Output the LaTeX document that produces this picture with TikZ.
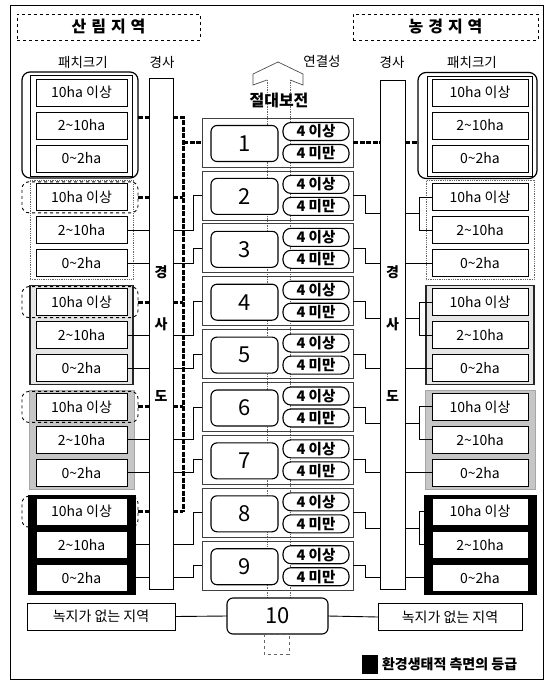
\documentclass[tikz,border=0pt]{standalone}
\usepackage{fontspec}
\setmainfont{Noto Sans CJK KR}
\usetikzlibrary{calc}
\begin{document}
\begin{tikzpicture}[x=1pt,y=-1pt, line width=0.8pt,
  every node/.style={inner sep=0pt, outer sep=0pt},
  sbox/.style={draw, fill=white, line width=1pt, minimum width=91pt, minimum height=27pt, font=\fontsize{14}{16}\selectfont},
  rowbox/.style={draw=black!75, line width=0.8pt, minimum width=151pt, minimum height=49pt},
  numbox/.style={draw, fill=white, rounded corners=6pt, line width=1.1pt, minimum width=67pt, minimum height=36pt, font=\fontsize{22}{24}\selectfont},
  pill/.style={draw, fill=white, rounded corners=8pt, line width=1.1pt, minimum width=66pt, minimum height=18pt, font=\bfseries\fontsize{14.5}{15}\selectfont},
  bar/.style={draw, fill=white, line width=0.8pt},
  thickdash/.style={line width=3pt, dash pattern=on 5pt off 1.5pt},
  conn/.style={line width=0.9pt},
  lbl/.style={font=\fontsize{13.5}{15}\selectfont},
  ttl/.style={draw, dashed, line width=0.7pt, minimum height=26pt, font=\bfseries\fontsize{16}{18}\selectfont},
  bartxt/.style={font=\bfseries\fontsize{14}{16}\selectfont},
  bracket/.style={draw, dashed, rounded corners=7pt, line width=0.9pt, minimum width=116pt, minimum height=31pt},
  grpone/.style={draw, rounded corners=8pt, line width=1.2pt, minimum width=116pt, minimum height=106pt},
  gtwo/.style={draw=black!60, densely dotted, line width=0.8pt},
  gthree/.style={draw=black!85, line width=1.6pt, fill=gray!20},
  gfour/.style={draw=gray!70, line width=0.6pt, fill=gray!45},
  gfive/.style={draw=black, fill=black},
  nogreen/.style={draw, line width=0.9pt, minimum width=148pt, minimum height=27pt, font=\fontsize{14}{16}\selectfont}
]
\useasboundingbox (0,0) rectangle (547,681);
\draw[line width=0.9pt] (10,5) rectangle (543,679);

% titles
\node[ttl, minimum width=183pt] (tl) at (108.5,27) {산\hspace{5pt}림\hspace{5pt}지\hspace{5pt}역};
\node[ttl, minimum width=185pt] (tr) at (445.5,27) {농\hspace{5pt}경\hspace{5pt}지\hspace{5pt}역};
\node[lbl] (lab1) at (83,62) {패치크기};
\node[lbl] (lab2) at (162,62) {경사};
\node[lbl] (lab3) at (322,61) {연결성};
\node[lbl] (lab4) at (392,62) {경사};
\node[lbl] (lab5) at (472,62) {패치크기};

% center axis
\draw[black!60, densely dotted, line width=0.7pt] (267,80) -- (267,598);
\draw[black!60, densely dotted, line width=0.7pt] (290,80) -- (290,598);
\draw[black!70, line width=0.7pt] (267,80) -- (253,85) -- (253,74) -- (278,62) -- (303,74) -- (303,85) -- (290,80);
\node[font=\bfseries\fontsize{16}{18}\selectfont] (abs) at (279,100) {절대보전};

% rows
\foreach \i in {1,...,9} {
  \pgfmathsetmacro\yc{118+52.9*(\i-1)+24.5}
  \node[rowbox] (row-\i) at (277.5,\yc) {};
  \node[numbox] (num-\i) at (244.5,\yc+1) {\i};
  \node[pill] (pa-\i) at (316,\yc-11) {4 이상};
  \node[pill] (pb-\i) at (316,\yc+11) {4 미만};
}
\node[numbox, minimum width=101pt, minimum height=36pt] (r10) at (277.5,616) {10};
\draw[black!60, dashed, line width=0.7pt] (264,634) rectangle (289,654);

% bars
\node[bar, minimum width=24pt, minimum height=511pt] (lbar) at (161,333.5) {};
\node[bar, minimum width=25pt, minimum height=509pt] (rbar) at (392.5,334.5) {};
\node[bartxt] at (161,272) {경};
\node[bartxt] at (161,324) {사};
\node[bartxt] at (161,396) {도};
\node[bartxt] at (392.5,272) {경};
\node[bartxt] at (392.5,324) {사};
\node[bartxt] at (392.5,396) {도};

% group 1
\node[grpone] (LG1) at (80,125) {};
\draw[line width=0.6pt] (30,75) rectangle (132,176);
\node[grpone, minimum width=119pt] (RG1) at (477.5,125.5) {};
\draw[line width=0.6pt] (427,76) rectangle (532,176);

% group frames
\draw[gtwo] (30,180.8) rectangle (133,279.8);
\draw[gthree] (30,285.6) rectangle (133,384.6);
\draw[gfour] (29,390.4) rectangle (134,489.4);
\draw[gfive] (28,495.2) rectangle (135,594.2);
\draw[gtwo] (426,180.8) rectangle (534,279.8);
\draw[gthree] (426,285.6) rectangle (534,384.6);
\draw[gfour] (425,390.4) rectangle (535,489.4);
\draw[gfive] (424,495.2) rectangle (536,594.2);

% boxes
\foreach \k in {1,...,5} {
  \pgfmathsetmacro\gt{79+104.8*(\k-1)}
  \node[sbox] (L-\k-0) at (81.5,\gt+13.5) {10ha 이상};
  \node[sbox] (L-\k-1) at (81.5,\gt+46.5) {2\textasciitilde10ha};
  \node[sbox] (L-\k-2) at (81.5,\gt+79.5) {0\textasciitilde2ha};
  \node[sbox, minimum width=96pt] (R-\k-0) at (480,\gt+13.5) {10ha 이상};
  \node[sbox, minimum width=96pt] (R-\k-1) at (480,\gt+46.5) {2\textasciitilde10ha};
  \node[sbox, minimum width=96pt] (R-\k-2) at (480,\gt+79.5) {0\textasciitilde2ha};
}
\foreach \k in {2,...,5} {
  \node[bracket] (LB-\k) at (80,{79+104.8*(\k-1)+13.5}) {};
}

% dashed absolute-conservation links
\coordinate (dtop) at (183,117);
\coordinate (dbot) at (dtop |- L-5-0.east);
\draw[thickdash] (LG1.east |- dtop) -- (lbar.west |- dtop);
\draw[thickdash] (lbar.east |- dtop) -- (dtop) -- (dbot);
\draw[thickdash] (dtop |- row-1.west) -- (row-1.west);
\draw[thickdash] (row-1.east) -- (rbar.west |- row-1.east);
\draw[thickdash] (rbar.east |- row-1.east) -- (RG1.west |- row-1.east);

\foreach \k in {2,...,5} {
  \pgfmathtruncatemacro\ra{2*\k-2}
  \pgfmathtruncatemacro\rb{2*\k-1}
  % left
  \draw[thickdash] (LB-\k.east) -- (LB-\k.east -| lbar.west);
  \draw[thickdash] (lbar.east |- LB-\k.east) -- (dtop |- LB-\k.east);
  \draw[conn] (L-\k-1.east) -- (L-\k-1.east -| lbar.west);
  \draw[conn] (L-\k-2.east) -- (L-\k-2.east -| lbar.west);
  \draw[conn] (row-\ra.west) -- ++(-9,0) |- (lbar.east |- L-\k-1.east);
  \draw[conn] (row-\rb.west) -- ++(-9,0) |- (lbar.east |- L-\k-2.east);
  % right
  \coordinate (rm-\k) at ($(R-\k-0.west)!0.5!(R-\k-1.west)$);
  \draw[conn] (row-\ra.east) -- ++(12,0) |- (rbar.west |- rm-\k);
  \draw[conn] (row-\rb.east) -- ++(12,0) |- (rbar.west |- R-\k-2.west);
  \draw[conn] (rbar.east |- rm-\k) -- ++(14,0) coordinate (rb-\k);
  \draw[conn] (R-\k-0.west) -- (R-\k-0.west -| rb-\k) -- (R-\k-1.west -| rb-\k) -- (R-\k-1.west);
  \draw[conn] (rbar.east |- R-\k-2.west) -- (R-\k-2.west);
}

% no-green areas
\node[nogreen] (NL) at (101,616.5) {녹지가 없는 지역};
\node[nogreen, minimum width=144pt] (NR) at (450,617) {녹지가 없는 지역};
\draw[conn] (NL.east) -- (r10.west);
\draw[conn] (r10.east) -- (NR.west);

% legend
\node[fill=black, minimum width=16pt, minimum height=19pt] (lgsq) at (370,664.5) {};
\node[anchor=west, font=\bfseries\fontsize{14}{16}\selectfont] (lgtx) at ([xshift=4pt]lgsq.east) {환경생태적 측면의 등급};
\end{tikzpicture}
\end{document}
